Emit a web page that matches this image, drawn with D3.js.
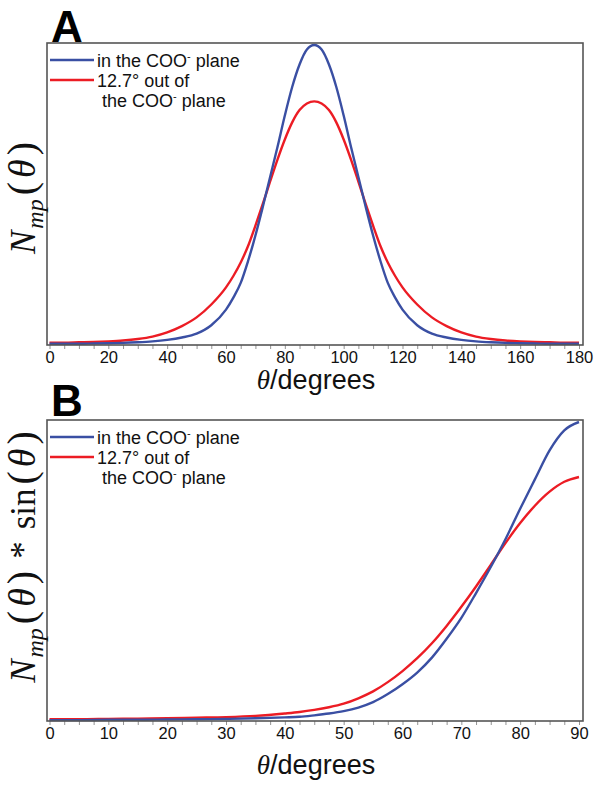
<!DOCTYPE html>
<html>
<head>
<meta charset="utf-8">
<script src="https://cdn.jsdelivr.net/npm/d3@7"></script>
<style>
  html, body { margin: 0; padding: 0; background: #fff; }
  svg { display: block; }
</style>
</head>
<body>
<svg id="chart" width="605" height="788"></svg>
<script>
// ---------- data ----------
const thetaA = [0,5,10,15,20,25,30,35,40,45,50,55,60,62.5,65,67.5,70,72.5,75,77.5,80,82.5,85,87.5,90,
  92.5,95,97.5,100,102.5,105,107.5,110,112.5,115,117.5,120,125,130,135,140,145,150,155,160,165,170,175,180];
const blueA = [0.004,0.004,0.004,0.005,0.006,0.007,0.009,0.012,0.017,0.025,0.038,0.066,0.118,0.158,0.207,0.28,0.365,0.46,0.56,0.66,0.765,0.86,0.935,0.985,1.0,
  0.985,0.935,0.86,0.765,0.66,0.56,0.46,0.365,0.28,0.207,0.158,0.118,0.066,0.038,0.025,0.017,0.012,0.009,0.007,0.006,0.005,0.004,0.004,0.004];
const redA = [0.008,0.008,0.009,0.010,0.012,0.015,0.020,0.028,0.042,0.063,0.092,0.135,0.192,0.23,0.275,0.33,0.398,0.47,0.545,0.618,0.685,0.742,0.783,0.805,0.812,
  0.805,0.783,0.742,0.685,0.618,0.545,0.47,0.398,0.33,0.275,0.23,0.192,0.135,0.092,0.063,0.042,0.028,0.020,0.015,0.012,0.010,0.009,0.008,0.008];

const thetaB = [0,5,10,15,20,25,30,35,40,42.5,45,47.5,50,52.5,55,57.5,60,62.5,65,67.5,70,72.5,75,77.5,80,82.5,85,87.5,90];
const blueB = [0.003,0.003,0.004,0.004,0.005,0.006,0.007,0.009,0.012,0.014,0.019,0.025,0.033,0.045,0.063,0.09,0.123,0.162,0.212,0.275,0.345,0.428,0.515,0.608,0.71,0.808,0.905,0.972,1.0];
const redB = [0.006,0.006,0.007,0.008,0.009,0.011,0.013,0.017,0.025,0.030,0.037,0.046,0.058,0.076,0.099,0.13,0.167,0.21,0.26,0.318,0.382,0.45,0.522,0.595,0.662,0.72,0.767,0.80,0.816];

const ticksA = [0,20,40,60,80,100,120,140,160,180];
const ticksB = [0,10,20,30,40,50,60,70,80,90];
const seriesNames = ["in the COO", "12.7° out of", "the COO"];

const BLUE = "#3a4fa3";
const RED = "#ec1c24";

const svg = d3.select("#chart");

function panel(opts) {
  const { top, bottom, xMax, theta, blue, red, majorTicks, minorStep, letter, letterY, titleY, ylabel } = opts;
  const left = 47, right = 583;
  const x = d3.scaleLinear().domain([0, xMax]).range([49.5, 579]);
  const y = d3.scaleLinear().domain([0, 1]).range([bottom, top + 2]);

  const g = svg.append("g");

  const allTicks = d3.range(0, xMax + 0.001, minorStep);
  const axis = d3.axisBottom(x).tickValues(allTicks).tickSize(4).tickPadding(2)
    .tickFormat(d => majorTicks.includes(d) ? d : "");
  const ax = g.append("g").attr("transform", `translate(0,${bottom})`).call(axis);
  ax.select(".domain").remove();
  ax.selectAll(".tick line").attr("stroke", "#777").attr("stroke-width", 0.8);
  ax.selectAll(".tick text").attr("font-family", "Liberation Sans, Arial, sans-serif")
    .attr("font-size", 16.5).attr("fill", "#111");

  const line = (vals) => d3.line().x((d, i) => x(theta[i])).y(d => y(d)).curve(d3.curveMonotoneX)(vals);
  g.append("path").attr("d", line(red)).attr("fill", "none").attr("stroke", RED).attr("stroke-width", 2.4);
  g.append("path").attr("d", line(blue)).attr("fill", "none").attr("stroke", BLUE).attr("stroke-width", 2.4);

  g.append("rect").attr("x", left).attr("y", top).attr("width", right - left).attr("height", bottom - top)
    .attr("fill", "none").attr("stroke", "#555").attr("stroke-width", 1.6);

  g.append("text").attr("x", 51).attr("y", letterY).text(letter)
    .attr("font-family", "Liberation Sans, Arial, sans-serif").attr("font-weight", "bold")
    .attr("font-size", 44).attr("fill", "#000");

  // legend
  const lf = "Liberation Sans, Arial, sans-serif";
  const legendRows = [top + 17, top + 37, top + 57];
  [[BLUE, legendRows[0]], [RED, legendRows[1]]].forEach(([c, yy]) => {
    g.append("line").attr("x1", 50).attr("x2", 94).attr("y1", yy).attr("y2", yy)
      .attr("stroke", c).attr("stroke-width", 2.4);
  });
  const fs = 18;
  const t1 = g.append("text").attr("x", 97).attr("y", legendRows[0] + 6.5)
    .attr("font-family", lf).attr("font-size", fs).attr("fill", "#111");
  t1.append("tspan").text(seriesNames[0]);
  t1.append("tspan").text("-").attr("font-size", 11).attr("dy", -7);
  t1.append("tspan").text(" plane").attr("dy", 7);
  g.append("text").attr("x", 97).attr("y", legendRows[1] + 6.5)
    .attr("font-family", lf).attr("font-size", fs).attr("fill", "#111").text(seriesNames[1]);
  const t3 = g.append("text").attr("x", 102).attr("y", legendRows[2] + 6.5)
    .attr("font-family", lf).attr("font-size", fs).attr("fill", "#111");
  t3.append("tspan").text(seriesNames[2]);
  t3.append("tspan").text("-").attr("font-size", 11).attr("dy", -7);
  t3.append("tspan").text(" plane").attr("dy", 7);

  // x title
  const xt = g.append("text").attr("x", 316).attr("y", titleY).attr("text-anchor", "middle")
    .attr("font-size", 27).attr("fill", "#111");
  xt.append("tspan").text("θ").attr("font-family", "Liberation Serif, Times New Roman, serif").attr("font-style", "italic");
  xt.append("tspan").text("/degrees").attr("font-family", lf);

  // y title
  const yt = g.append("text").attr("transform", `translate(35,${ylabel.cy}) rotate(-90)`)
    .attr("text-anchor", "middle").attr("font-family", "Liberation Serif, Times New Roman, serif")
    .attr("font-size", 35).attr("fill", "#111");
  yt.append("tspan").text("N").attr("font-style", "italic");
  yt.append("tspan").text("mp").attr("font-style", "italic").attr("font-size", 24).attr("dy", 8).attr("dx", 2);
  yt.append("tspan").text("(").attr("dy", -8).attr("dx", 4).attr("font-size", 40);
  yt.append("tspan").text("θ").attr("font-style", "italic").attr("dx", 4).attr("font-size", 38);
  yt.append("tspan").text(")").attr("dx", 4).attr("font-size", 40);
  if (ylabel.sin) {
    yt.append("tspan").text("*").attr("dx", 12);
    yt.append("tspan").text("sin").attr("dx", 12);
    yt.append("tspan").text("(").attr("dx", 4).attr("font-size", 40);
    yt.append("tspan").text("θ").attr("font-style", "italic").attr("dx", 4).attr("font-size", 38);
    yt.append("tspan").text(")").attr("dx", 4).attr("font-size", 40);
  }
}

panel({ top: 43, bottom: 345, xMax: 180, theta: thetaA, blue: blueA, red: redA,
  majorTicks: ticksA, minorStep: 5, letter: "A", letterY: 42, titleY: 389,
  ylabel: { cy: 198, sin: false } });
panel({ top: 420, bottom: 721, xMax: 90, theta: thetaB, blue: blueB, red: redB,
  majorTicks: ticksB, minorStep: 2.5, letter: "B", letterY: 416, titleY: 774,
  ylabel: { cy: 557, sin: true } });
</script>
</body>
</html>
